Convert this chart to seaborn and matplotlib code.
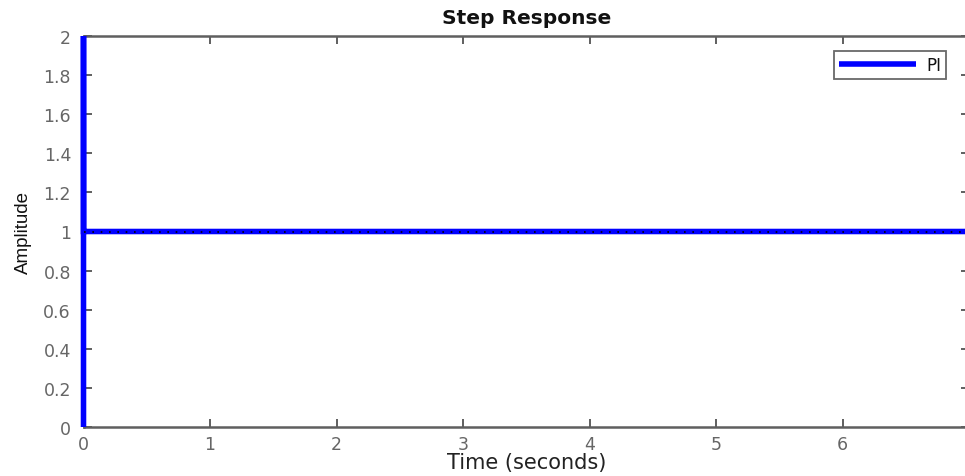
import matplotlib
matplotlib.use("Agg")
import matplotlib.pyplot as plt
import seaborn as sns
import pandas as pd

# data
time_s = [0.0, 0.0, 0.0005, 7.0]
amplitude = [0.0, 2.0, 1.0, 1.0]
steady_time = [0.0, 7.0]
steady_value = [1.0, 1.0]
series_name = "PI"
x_ticks = [0, 1, 2, 3, 4, 5, 6, 7]
y_ticks = [0, 0.2, 0.4, 0.6, 0.8, 1, 1.2, 1.4, 1.6, 1.8, 2]

sns.set_theme(style="white")
plt.rcParams['font.family'] = ['DejaVu Sans']

fig = plt.figure(figsize=(9.65, 4.77), dpi=100)
W, H = 965, 477
left, right, top, bottom = 83.5, 969, 37, 428
ax = fig.add_axes([left / W, 1 - bottom / H, (right - left) / W, (bottom - top) / H])

df = pd.DataFrame({"t": time_s, "y": amplitude, "s": series_name})
ss = pd.DataFrame({"t": steady_time, "y": steady_value})

sns.lineplot(data=df, x="t", y="y", hue="s", palette=["#0000ff"], lw=4,
             sort=False, estimator=None, ax=ax)
for ln in ax.get_lines():
    ln.set_clip_on(False)
    ln.set_solid_capstyle("butt")
    ln.set_solid_joinstyle("miter")
    ln.set_zorder(3)
sns.lineplot(data=ss, x="t", y="y", color="black", lw=1.2, ls=(0, (1, 4)),
             estimator=None, ax=ax, legend=False, zorder=5)

ax.set_xlim(0, 7)
ax.set_ylim(0, 2)
ax.set_xticks(x_ticks)
ax.set_yticks(y_ticks)
ax.set_xticklabels([str(v) for v in x_ticks])
ax.set_yticklabels([f"{v:g}" for v in y_ticks])

gray = "#5f5f5f"
for s in ax.spines.values():
    s.set_visible(True)
    s.set_color(gray)
    s.set_linewidth(1.8)
    s.set_zorder(2)
ax.tick_params(axis="both", direction="in", length=6, width=1.4, color=gray,
               labelcolor="#666666", labelsize=12.5, top=True, right=True,
               bottom=True, left=True)
ax.tick_params(axis="y", pad=9)
ax.tick_params(axis="x", pad=6)

ax.set_xlabel("Time (seconds)", fontsize=15, color="#222222", labelpad=-1)
ax.set_ylabel("Amplitude", fontsize=13.5, color="#111111", labelpad=8,
              family=["Liberation Sans"])
ax.set_title("Step Response", fontsize=14.5, fontweight="bold", color="#111111", pad=9)

leg = ax.legend(loc="upper right", bbox_to_anchor=((946 - left) / (right - left), (bottom - 52) / (bottom - top)),
                frameon=True, fancybox=False, fontsize=12, handlelength=4.6,
                borderpad=0.3, handletextpad=0.6, borderaxespad=0)
leg.get_frame().set_edgecolor("#444444")
leg.get_frame().set_linewidth(1.3)
for t in leg.get_texts():
    t.set_color("#111111")

fig.savefig("out.png", dpi=100)
